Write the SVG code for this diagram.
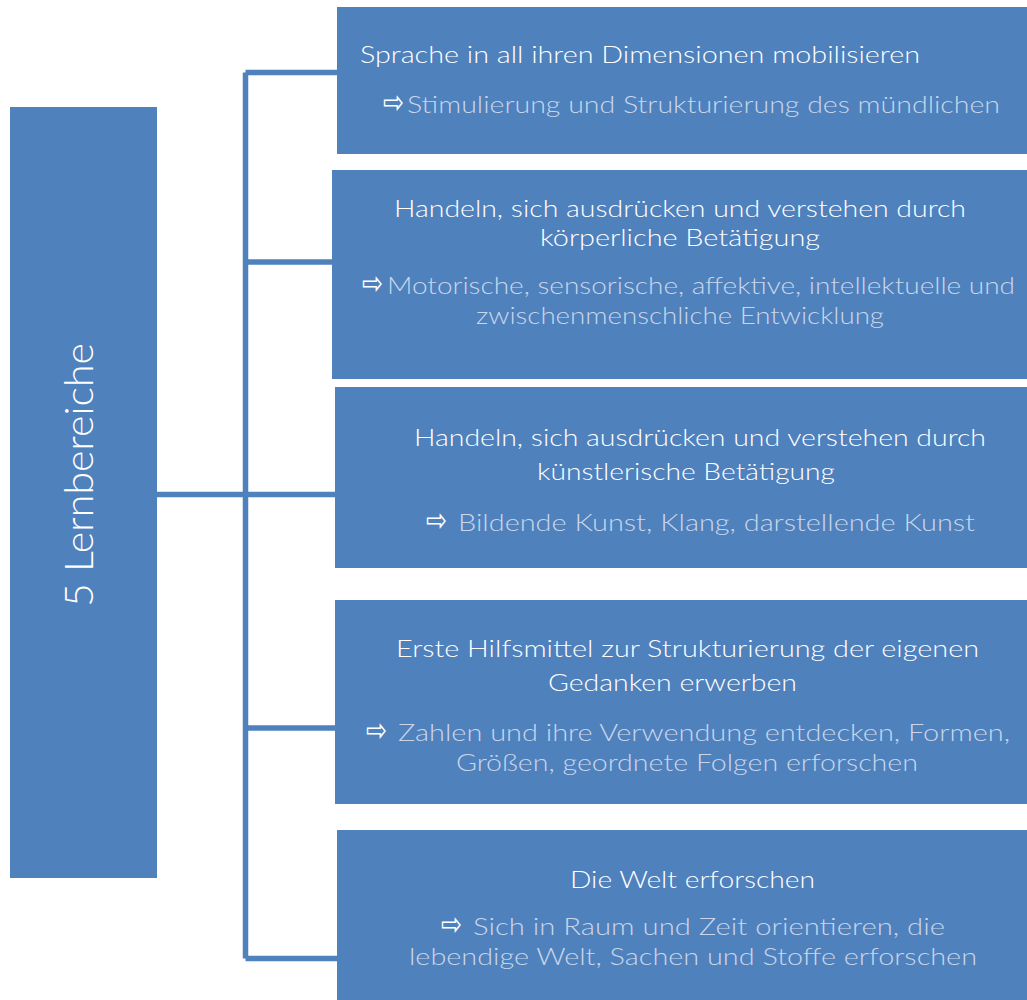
<svg xmlns="http://www.w3.org/2000/svg" width="1027" height="1000" viewBox="0 0 1027 1000">
<style>
.box{fill:#4F81BD}
.t{font-family:Lato,"Open Sans","Liberation Sans",sans-serif;font-weight:300;font-size:24px;fill:#FFFFFF}
.s{font-family:Lato,"Open Sans","Liberation Sans",sans-serif;font-weight:300;font-size:24px;fill:#C9D6EA}
.a{font-family:"DejaVu Sans",sans-serif;font-size:32px;fill:#FFFFFF}
.c{fill:none;stroke:#4F81BD;stroke-width:5.5}
</style>
<rect width="1027" height="1000" fill="#FFFFFF"/>
<g id="connectors">
<path class="c" d="M157 494.5H245.5M245.5 72.5V958.5M245.5 72.5H337M245.5 262H332M245.5 494.5H335M245.5 728H335M245.5 958.5H337"/>
</g>
<g id="root">
<rect class="box" x="10" y="107" width="147" height="771"/>
<text class="t" transform="translate(93,607) rotate(-90)" style="font-size:40px" textLength="264" lengthAdjust="spacingAndGlyphs">5 Lernbereiche</text>
</g>
<g id="n1">
<rect class="box" x="337" y="7" width="690" height="147"/>
<text class="t" x="360" y="63" textLength="560" lengthAdjust="spacingAndGlyphs">Sprache in all ihren Dimensionen mobilisieren</text>
<text class="a" x="383" y="113" textLength="21" lengthAdjust="spacingAndGlyphs">⇨</text>
<text class="s" x="407" y="113" textLength="593" lengthAdjust="spacingAndGlyphs">Stimulierung und Strukturierung des mündlichen</text>
</g>
<g id="n2">
<rect class="box" x="332" y="170" width="695" height="209"/>
<text class="t" x="394" y="217" textLength="572" lengthAdjust="spacingAndGlyphs">Handeln, sich ausdrücken und verstehen durch</text>
<text class="t" x="540" y="246" textLength="280" lengthAdjust="spacingAndGlyphs">körperliche Betätigung</text>
<text class="a" x="362" y="294" textLength="21" lengthAdjust="spacingAndGlyphs">⇨</text>
<text class="s" x="387" y="294" textLength="628" lengthAdjust="spacingAndGlyphs">Motorische, sensorische, affektive, intellektuelle und</text>
<text class="s" x="476" y="324" textLength="408" lengthAdjust="spacingAndGlyphs">zwischenmenschliche Entwicklung</text>
</g>
<g id="n3">
<rect class="box" x="335" y="387" width="692" height="181"/>
<text class="t" x="414" y="446" textLength="572" lengthAdjust="spacingAndGlyphs">Handeln, sich ausdrücken und verstehen durch</text>
<text class="t" x="537" y="480" textLength="298" lengthAdjust="spacingAndGlyphs">künstlerische Betätigung</text>
<text class="a" x="426" y="531" textLength="21" lengthAdjust="spacingAndGlyphs">⇨</text>
<text class="s" x="458" y="531" textLength="517" lengthAdjust="spacingAndGlyphs">Bildende Kunst, Klang, darstellende Kunst</text>
</g>
<g id="n4">
<rect class="box" x="335" y="600" width="692" height="204"/>
<text class="t" x="396" y="657" textLength="583" lengthAdjust="spacingAndGlyphs">Erste Hilfsmittel zur Strukturierung der eigenen</text>
<text class="t" x="548" y="691" textLength="249" lengthAdjust="spacingAndGlyphs">Gedanken erwerben</text>
<text class="a" x="366" y="741" textLength="21" lengthAdjust="spacingAndGlyphs">⇨</text>
<text class="s" x="398" y="741" textLength="612" lengthAdjust="spacingAndGlyphs">Zahlen und ihre Verwendung entdecken, Formen,</text>
<text class="s" x="456" y="771" textLength="462" lengthAdjust="spacingAndGlyphs">Größen, geordnete Folgen erforschen</text>
</g>
<g id="n5">
<rect class="box" x="337" y="830" width="690" height="170"/>
<text class="t" x="570" y="888" textLength="245" lengthAdjust="spacingAndGlyphs">Die Welt erforschen</text>
<text class="a" x="441" y="935" textLength="21" lengthAdjust="spacingAndGlyphs">⇨</text>
<text class="s" x="473" y="935" textLength="472" lengthAdjust="spacingAndGlyphs">Sich in Raum und Zeit orientieren, die</text>
<text class="s" x="409" y="965" textLength="568" lengthAdjust="spacingAndGlyphs">lebendige Welt, Sachen und Stoffe erforschen</text>
</g>
</svg>
